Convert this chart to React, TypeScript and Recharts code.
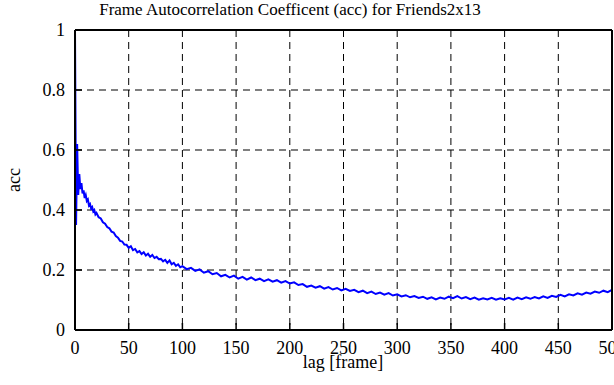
import { LineChart, Line, XAxis, YAxis, CartesianGrid } from 'recharts';

const FONT = '"Liberation Serif", "Times New Roman", serif';

// lag in frames, acc
const lags = [
  0, 1, 2, 3, 4, 5, 6, 7, 8, 9, 10, 11, 12, 13, 14, 15, 16, 17, 18, 19, 20,
  22, 24, 26, 28, 30, 32, 34, 36, 38, 40, 42, 44, 46, 48, 50, 52, 54, 56, 58, 60,
  62, 64, 66, 68, 70, 72, 74, 76, 78, 80, 82, 84, 86, 88, 90, 92, 94, 96, 98, 100,
  104, 108, 112, 116, 120, 124, 128, 132, 136, 140, 144, 148, 152, 156, 160, 164, 168, 172, 176, 180,
  184, 188, 192, 196, 200, 204, 208, 212, 216, 220, 224, 228, 232, 236, 240, 244, 248, 252, 256, 260,
  264, 268, 272, 276, 280, 284, 288, 292, 296, 300, 304, 308, 312, 316, 320, 324, 328, 332, 336, 340,
  344, 348, 352, 356, 360, 364, 368, 372, 376, 380, 384, 388, 392, 396, 400, 404, 408, 412, 416, 420,
  424, 428, 432, 436, 440, 444, 448, 452, 456, 460, 464, 468, 472, 476, 480, 484, 488, 492, 496, 500,
];

const acc = [
  1.0, 0.35, 0.62, 0.45, 0.52, 0.47, 0.49, 0.455, 0.465, 0.44, 0.45, 0.43, 0.435, 0.415, 0.42, 0.405, 0.41, 0.395, 0.4, 0.385, 0.39,
  0.376, 0.372, 0.359, 0.354, 0.343, 0.339, 0.328, 0.325, 0.313, 0.308, 0.297, 0.295, 0.285, 0.284, 0.274, 0.279, 0.266, 0.27, 0.259, 0.263,
  0.253, 0.259, 0.248, 0.254, 0.244, 0.25, 0.24, 0.244, 0.236, 0.237, 0.229, 0.234, 0.224, 0.232, 0.219, 0.224, 0.214, 0.219, 0.209, 0.213,
  0.203, 0.207, 0.197, 0.202, 0.191, 0.196, 0.186, 0.19, 0.179, 0.184, 0.175, 0.181, 0.171, 0.177, 0.168, 0.175, 0.166, 0.171, 0.163, 0.169,
  0.161, 0.166, 0.158, 0.163, 0.155, 0.159, 0.15, 0.153, 0.144, 0.148, 0.141, 0.146, 0.138, 0.143, 0.135, 0.14, 0.132, 0.137, 0.13, 0.134,
  0.126, 0.131, 0.123, 0.128, 0.12, 0.125, 0.118, 0.123, 0.115, 0.119, 0.112, 0.116, 0.109, 0.113, 0.107, 0.111, 0.104, 0.109, 0.102, 0.108,
  0.104, 0.111, 0.106, 0.113, 0.105, 0.11, 0.103, 0.108, 0.101, 0.106, 0.102, 0.107, 0.101, 0.106, 0.102, 0.107, 0.101, 0.108, 0.103, 0.109,
  0.104, 0.11, 0.105, 0.112, 0.107, 0.114, 0.11, 0.117, 0.112, 0.119, 0.115, 0.122, 0.118, 0.125, 0.121, 0.128, 0.124, 0.131, 0.126, 0.134,
];

const xTicks = [0, 50, 100, 150, 200, 250, 300, 350, 400, 450, 500];
const yTicks = [0, 0.2, 0.4, 0.6, 0.8, 1];

const data = lags.map((lag, i) => ({ lag, acc: acc[i] }));

function XTick(props: any) {
  const { x, y, payload } = props;
  return (
    <text x={x} y={y} dy="0.71em" textAnchor="middle" fontFamily={FONT} fontSize={18} fill="#000">
      {payload.value}
    </text>
  );
}

function YTick(props: any) {
  const { x, y, payload } = props;
  return (
    <text x={x} y={y} dy="0.355em" textAnchor="end" fontFamily={FONT} fontSize={18} fill="#000">
      {payload.value}
    </text>
  );
}

export default function App() {
  return (
    <div
      style={{
        position: 'absolute',
        top: 0,
        left: 0,
        width: 614,
        height: 385,
        background: '#fff',
        fontFamily: FONT,
      }}
    >
      <div
        style={{
          position: 'absolute',
          top: 1,
          left: 0,
          width: 580,
          textAlign: 'center',
          fontSize: 17,
          lineHeight: '17px',
          color: '#000',
        }}
      >
        Frame Autocorrelation Coefficent (acc) for Friends2x13
      </div>
      <LineChart
        width={614}
        height={385}
        data={data}
        margin={{ top: 29, right: 1, bottom: 0, left: 0 }}
        style={{ fontFamily: FONT }}
      >
        <CartesianGrid stroke="#000" strokeDasharray="7 5" strokeWidth={1} />
        <XAxis
          dataKey="lag"
          type="number"
          domain={[0, 500]}
          ticks={xTicks}
          interval={0}
          height={55}
          tickSize={-7}
          tickMargin={18}
          tick={<XTick />}
          axisLine={{ stroke: '#000', strokeWidth: 2 }}
          tickLine={{ stroke: '#000', strokeWidth: 1.5 }}
          label={{
            content: () => (
              <text x={343} y={368} textAnchor="middle" fontFamily={FONT} fontSize={18} fill="#000">
                lag [frame]
              </text>
            ),
          }}
        />
        <XAxis
          xAxisId="top"
          orientation="top"
          dataKey="lag"
          type="number"
          domain={[0, 500]}
          ticks={xTicks}
          interval={0}
          height={1}
          tickSize={-7}
          tick={false}
          axisLine={{ stroke: '#000', strokeWidth: 2 }}
          tickLine={{ stroke: '#000', strokeWidth: 1.5 }}
        />
        <YAxis
          domain={[0, 1]}
          ticks={yTicks}
          interval={0}
          width={75}
          tickSize={-7}
          tickMargin={17}
          tick={<YTick />}
          axisLine={{ stroke: '#000', strokeWidth: 2 }}
          tickLine={{ stroke: '#000', strokeWidth: 1.5 }}
          label={{
            content: () => (
              <text
                x={20}
                y={180}
                transform="rotate(-90 20 180)"
                textAnchor="middle"
                fontFamily={FONT}
                fontSize={18}
                fill="#000"
              >
                acc
              </text>
            ),
          }}
        />
        <YAxis
          yAxisId="right"
          orientation="right"
          domain={[0, 1]}
          ticks={yTicks}
          interval={0}
          width={1}
          tickSize={-7}
          tick={false}
          axisLine={{ stroke: '#000', strokeWidth: 2 }}
          tickLine={{ stroke: '#000', strokeWidth: 1.5 }}
        />
        <Line
          dataKey="acc"
          type="linear"
          stroke="#0000ff"
          strokeWidth={2}
          dot={false}
          isAnimationActive={false}
        />
      </LineChart>
    </div>
  );
}
